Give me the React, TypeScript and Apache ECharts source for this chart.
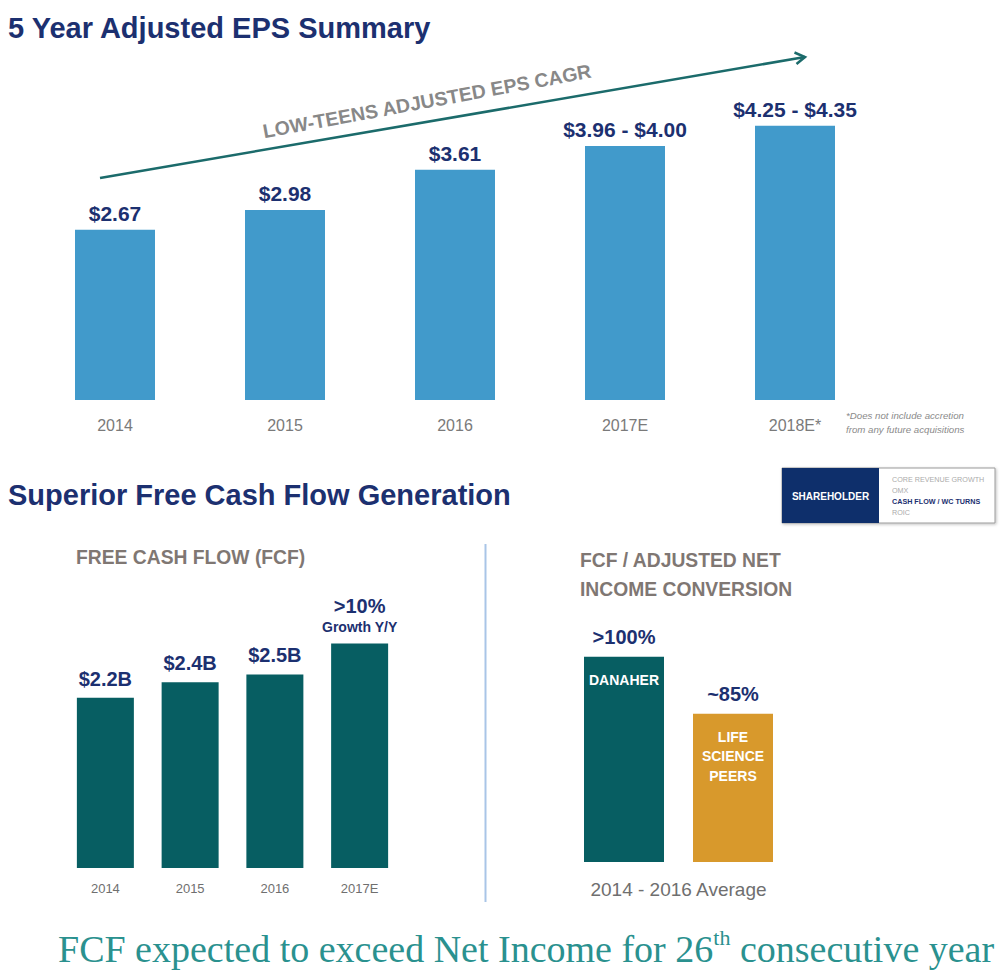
import React, { useEffect, useRef } from "react";
import * as echarts from "echarts";

const epsYears = ["2014", "2015", "2016", "2017E", "2018E*"];
const epsValues = [2.67, 2.98, 3.61, 3.98, 4.3];
const epsLabels = ["$2.67", "$2.98", "$3.61", "$3.96 - $4.00", "$4.25 - $4.35"];

const fcfYears = ["2014", "2015", "2016", "2017E"];
const fcfValues = [2.2, 2.4, 2.5, 2.9];
const fcfLabels = ["$2.2B", "$2.4B", "$2.5B", "{big|>10%}\n{small|Growth Y/Y}"];

const convCategories = ["DANAHER", "LIFE SCIENCE PEERS"];
const convValues = [100, 85];
const convLabels = [">100%", "~85%"];
const convInner = ["DANAHER", "LIFE\nSCIENCE\nPEERS"];

const shareholderItems = ["CORE REVENUE GROWTH", "OMX", "CASH FLOW / WC TURNS", "ROIC"];

const FONT = "'Liberation Sans', Arial, sans-serif";
const SERIF = "'Liberation Serif', 'Times New Roman', serif";
const NAVY = "#1c3070";
const GREY = "#7f7773";
const BLUE = "#419acb";
const TEAL = "#075e62";
const GOLD = "#d8992c";

export default function App() {
  const ref = useRef<HTMLDivElement>(null);

  useEffect(() => {
    if (!ref.current) return;
    const chart = echarts.init(ref.current, undefined, { renderer: "svg" });

    const option: any = {
      animation: false,
      backgroundColor: "#ffffff",
      textStyle: { fontFamily: FONT },
      grid: [
        { left: 30, width: 850, top: 81, height: 319 },
        { left: 63, width: 339, top: 597, height: 271 },
        { left: 569.5, width: 218, top: 580.8, height: 281.2 },
      ],
      xAxis: [
        {
          type: "category",
          gridIndex: 0,
          data: epsYears,
          axisLine: { show: false },
          axisTick: { show: false },
          axisLabel: { color: "#7a7a7a", fontSize: 16, margin: 17, fontFamily: FONT },
        },
        {
          type: "category",
          gridIndex: 1,
          data: fcfYears,
          axisLine: { show: false },
          axisTick: { show: false },
          axisLabel: { color: "#6f6f6f", fontSize: 13, margin: 14, fontFamily: FONT },
        },
        {
          type: "category",
          gridIndex: 2,
          data: convCategories,
          axisLine: { show: false },
          axisTick: { show: false },
          axisLabel: { show: false },
          name: "2014 - 2016 Average",
          nameLocation: "middle",
          nameGap: 18,
          nameTextStyle: { color: "#6f6f6f", fontSize: 19, fontFamily: FONT },
        },
      ],
      yAxis: [
        { type: "value", gridIndex: 0, min: 0, max: 5, show: false, splitLine: { show: false } },
        { type: "value", gridIndex: 1, min: 0, max: 3.5, show: false, splitLine: { show: false } },
        { type: "value", gridIndex: 2, min: 46, max: 120, show: false, splitLine: { show: false } },
      ],
      series: [
        {
          type: "bar",
          xAxisIndex: 0,
          yAxisIndex: 0,
          data: epsValues,
          barWidth: 80,
          itemStyle: { color: BLUE },
          label: {
            show: true,
            position: "top",
            distance: 6,
            color: NAVY,
            fontSize: 21,
            fontWeight: "bold",
            fontFamily: FONT,
            formatter: (p: any) => epsLabels[p.dataIndex],
          },
        },
        {
          type: "bar",
          xAxisIndex: 1,
          yAxisIndex: 1,
          data: fcfValues,
          barWidth: 57,
          itemStyle: { color: TEAL },
          label: {
            show: true,
            position: "top",
            distance: 7,
            color: NAVY,
            fontSize: 20,
            fontWeight: "bold",
            fontFamily: FONT,
            lineHeight: 24,
            formatter: (p: any) => fcfLabels[p.dataIndex],
            rich: {
              big: { fontSize: 20, fontWeight: "bold", color: NAVY, fontFamily: FONT, lineHeight: 25 },
              small: { fontSize: 14, fontWeight: "bold", color: NAVY, fontFamily: FONT, lineHeight: 18 },
            },
          },
        },
        {
          type: "bar",
          xAxisIndex: 2,
          yAxisIndex: 2,
          data: convValues.map((v, i) => ({ value: v, itemStyle: { color: i === 0 ? TEAL : GOLD } })),
          barWidth: 80,
          barGap: "-100%",
          label: {
            show: true,
            position: "top",
            distance: 10,
            color: NAVY,
            fontSize: 20,
            fontWeight: "bold",
            fontFamily: FONT,
            formatter: (p: any) => convLabels[p.dataIndex],
          },
        },
        {
          type: "bar",
          xAxisIndex: 2,
          yAxisIndex: 2,
          data: convValues,
          barWidth: 80,
          barGap: "-100%",
          itemStyle: { color: "rgba(0,0,0,0)" },
          label: {
            show: true,
            position: "insideTop",
            distance: 13,
            color: "#ffffff",
            fontSize: 14,
            fontWeight: "bold",
            lineHeight: 19.5,
            fontFamily: FONT,
            formatter: (p: any) => convInner[p.dataIndex],
          },
        },
      ],
      graphic: [
        {
          type: "text",
          left: 8,
          top: 13,
          style: { text: "5 Year Adjusted EPS Summary", fill: NAVY, font: `bold 29px ${FONT}` },
        },
        {
          type: "text",
          left: 8,
          top: 480,
          style: { text: "Superior Free Cash Flow Generation", fill: NAVY, font: `bold 29px ${FONT}` },
        },
        {
          type: "line",
          shape: { x1: 100, y1: 178, x2: 805, y2: 57 },
          style: { stroke: "#1b6b6b", lineWidth: 2.5 },
        },
        {
          type: "polyline",
          shape: { points: [[794.5, 52.5], [805, 57], [796.5, 64]] },
          style: { stroke: "#1b6b6b", lineWidth: 2.5, fill: null },
        },
        {
          type: "text",
          x: 427,
          y: 101,
          rotation: (10.5 * Math.PI) / 180,
          style: {
            text: "LOW-TEENS ADJUSTED EPS CAGR",
            fill: "#888888",
            font: `bold 19.5px ${FONT}`,
            align: "center",
            verticalAlign: "middle",
          },
        },
        {
          type: "text",
          x: 846,
          y: 422,
          style: {
            text: "*Does not include accretion\nfrom any future acquisitions",
            fill: "#8a8a8a",
            font: `italic 9.7px ${FONT}`,
            lineHeight: 14,
            verticalAlign: "middle",
          },
        },
        {
          type: "text",
          left: 76,
          top: 548,
          style: { text: "FREE CASH FLOW (FCF)", fill: GREY, font: `bold 19.3px ${FONT}` },
        },
        {
          type: "text",
          left: 580,
          top: 546,
          style: {
            text: "FCF / ADJUSTED NET\nINCOME CONVERSION",
            fill: GREY,
            font: `bold 19.3px ${FONT}`,
            lineHeight: 29,
          },
        },
        {
          type: "line",
          shape: { x1: 485.5, y1: 544, x2: 485.5, y2: 902 },
          style: { stroke: "#a9c5e7", lineWidth: 2 },
        },
        {
          type: "rect",
          shape: { x: 782, y: 468, width: 213, height: 55 },
          style: { fill: "#ffffff", stroke: "#9a9a9a", lineWidth: 1, shadowBlur: 3, shadowColor: "rgba(0,0,0,0.25)", shadowOffsetX: 1, shadowOffsetY: 1 },
        },
        {
          type: "rect",
          shape: { x: 782, y: 468, width: 97, height: 55 },
          style: { fill: "#0e2f6b" },
        },
        {
          type: "text",
          x: 830.5,
          y: 496,
          style: { text: "SHAREHOLDER", fill: "#ffffff", font: `bold 10px ${FONT}`, align: "center", verticalAlign: "middle" },
        },
        ...shareholderItems.map((t, i) => ({
          type: "text",
          x: 892,
          y: 479 + i * 11.3,
          style: {
            text: t,
            fill: i === 2 ? NAVY : "#ababab",
            font: `${i === 2 ? "bold " : ""}7.2px ${FONT}`,
            verticalAlign: "middle",
          },
        })),
        {
          type: "text",
          x: 58,
          y: 947,
          style: {
            text: "{a|FCF expected to exceed Net Income for 26}{s|th}{a| consecutive year}",
            verticalAlign: "middle",
            rich: {
              a: { fontFamily: SERIF, fontSize: 38, fill: "#2a918f", color: "#2a918f", lineHeight: 42, verticalAlign: "bottom" },
              s: { fontFamily: SERIF, fontSize: 22, fill: "#2a918f", color: "#2a918f", lineHeight: 42, verticalAlign: "top" },
            },
          },
        },
      ],
    };

    chart.setOption(option);
    return () => chart.dispose();
  }, []);

  return (
    <div
      ref={ref}
      style={{ position: "fixed", left: 0, top: 0, width: 1006, height: 972, background: "#fff" }}
    />
  );
}
